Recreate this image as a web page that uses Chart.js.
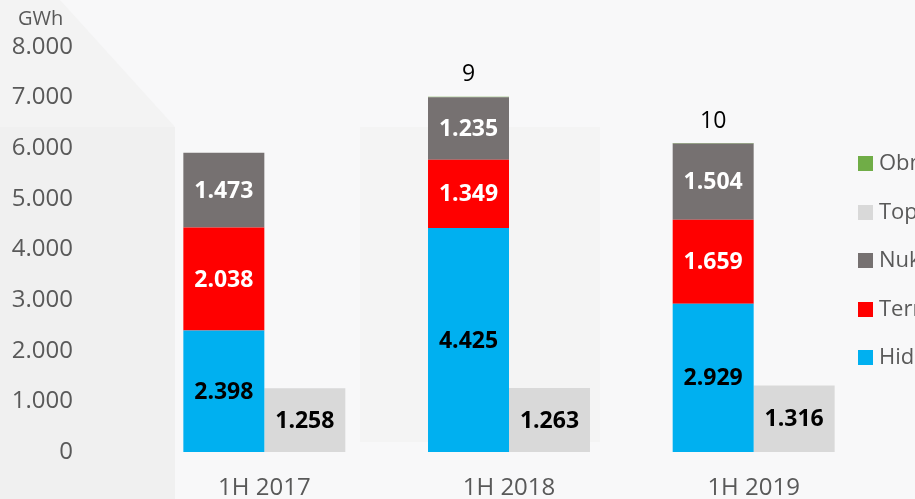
<!DOCTYPE html>
<html>
<head>
<meta charset="utf-8">
<script src="https://cdn.jsdelivr.net/npm/chart.js@4"></script>
<style>
  html, body { margin: 0; padding: 0; background: #f7f7f8; }
  #wrap { width: 915px; height: 499px; }
</style>
</head>
<body>
<div id="wrap"><canvas id="chart" width="915" height="499"></canvas></div>
<script>
const categories = ["1H 2017", "1H 2018", "1H 2019"];
const hidro = [2398, 4425, 2929];
const termo = [2038, 1349, 1659];
const nuklearna = [1473, 1235, 1504];
const obnovljivi = [0, 9, 10];
const toplina = [1258, 1263, 1316];
const yMax = 8000;
const yStep = 1000;

const FONT = "'Open Sans', sans-serif";
const GREY_TEXT = "#595959";

function fmt(v) {
  return String(v).replace(/\B(?=(\d{3})+(?!\d))/g, ".");
}

// background panels + GWh unit
const backdrop = {
  id: "backdrop",
  beforeDraw(chart) {
    const ctx = chart.ctx;
    ctx.save();
    ctx.fillStyle = "#f8f8f9";
    ctx.fillRect(0, 0, chart.width, chart.height);
    ctx.fillStyle = "#f3f3f3";
    ctx.beginPath();
    ctx.moveTo(0, 0); ctx.lineTo(60, 0); ctx.lineTo(175, 127); ctx.lineTo(0, 127);
    ctx.closePath(); ctx.fill();
    ctx.fillStyle = "#f0f0f0";
    ctx.fillRect(0, 127, 175, chart.height - 127);
    ctx.fillStyle = "#f4f4f4";
    ctx.fillRect(360, 127, 240, 315);
    ctx.restore();
  },
  afterDraw(chart) {
    const ctx = chart.ctx;
    ctx.save();
    ctx.fillStyle = GREY_TEXT;
    ctx.font = "20px " + FONT;
    ctx.textBaseline = "middle";
    ctx.fillText("GWh", 18, 19);
    ctx.restore();
  }
};

// value labels on the bars
const valueLabels = {
  id: "valueLabels",
  afterDatasetsDraw(chart) {
    const ctx = chart.ctx;
    ctx.save();
    ctx.textAlign = "center";
    ctx.textBaseline = "middle";
    chart.data.datasets.forEach((ds, i) => {
      const meta = chart.getDatasetMeta(i);
      meta.data.forEach((bar, j) => {
        const v = ds.data[j];
        if (!v) return;
        if (ds.outside) {
          ctx.font = "23px " + FONT;
          ctx.fillStyle = "#000";
          ctx.fillText(fmt(v), bar.x, bar.y - 22);
        } else {
          ctx.font = "bold 23px " + FONT;
          ctx.fillStyle = ds.labelColor;
          ctx.fillText(fmt(v), bar.x, (bar.y + bar.base) / 2 + 1);
        }
      });
    });
    ctx.restore();
  }
};

// legend on the right, runs off the canvas edge like the original
const sideLegend = {
  id: "sideLegend",
  afterDraw(chart) {
    const ctx = chart.ctx;
    const order = [4, 3, 2, 1, 0];
    const rowsY = [163, 212, 260, 309, 357];
    ctx.save();
    ctx.font = "22px " + FONT;
    ctx.textBaseline = "middle";
    order.forEach((di, k) => {
      const ds = chart.data.datasets[di];
      ctx.fillStyle = ds.backgroundColor;
      ctx.fillRect(858, rowsY[k] - 7, 15, 15);
      ctx.fillStyle = GREY_TEXT;
      ctx.fillText(ds.label, 879, rowsY[k] + 1);
    });
    ctx.restore();
  }
};

const ctx = document.getElementById("chart").getContext("2d");
new Chart(ctx, {
  type: "bar",
  data: {
    labels: categories,
    datasets: [
      { label: "Hidroelektrane", data: hidro, backgroundColor: "#00b0f0", stack: "proizvodnja", labelColor: "#000" },
      { label: "Termoelektrane", data: termo, backgroundColor: "#ff0000", stack: "proizvodnja", labelColor: "#fff" },
      { label: "Nuklearna elektrana", data: nuklearna, backgroundColor: "#767171", stack: "proizvodnja", labelColor: "#fff" },
      { label: "Toplinska energija", data: toplina, backgroundColor: "#d9d9d9", stack: "toplina", labelColor: "#000" },
      { label: "Obnovljivi izvori", data: obnovljivi, backgroundColor: "#70ad47", stack: "proizvodnja", outside: true }
    ]
  },
  options: {
    responsive: false,
    animation: false,
    layout: { padding: { left: 0, right: 39, top: 47, bottom: 0 } },
    datasets: {
      bar: {
        categoryPercentage: 0.662,
        barPercentage: 1,
        borderWidth: 0
      }
    },
    scales: {
      x: {
        stacked: true,
        grid: { display: false, drawTicks: false },
        border: { display: false },
        ticks: { color: GREY_TEXT, font: { family: FONT, size: 24 }, padding: 22 },
        afterFit(scale) { scale.height = 47; }
      },
      y: {
        stacked: true,
        min: 0,
        max: yMax,
        grid: { display: false, drawTicks: false },
        border: { display: false },
        ticks: {
          stepSize: yStep,
          color: GREY_TEXT,
          font: { family: FONT, size: 24 },
          padding: 69,
          callback: v => fmt(v)
        },
        afterFit(scale) {
          scale.width = 142;
          scale.paddingTop = 0;
          scale.paddingBottom = 0;
        }
      }
    },
    plugins: {
      legend: { display: false },
      tooltip: { enabled: false }
    }
  },
  plugins: [backdrop, valueLabels, sideLegend]
});
</script>
</body>
</html>
